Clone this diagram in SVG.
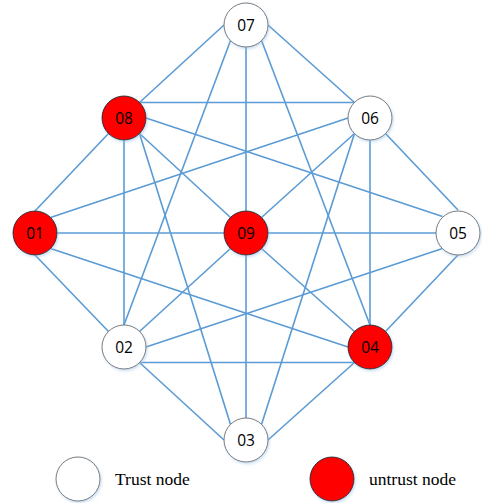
<svg xmlns="http://www.w3.org/2000/svg" width="482" height="503" viewBox="0 0 482 503">
<defs>
<filter id="sh" x="-30%" y="-30%" width="160%" height="160%">
<feDropShadow dx="1" dy="1.5" stdDeviation="1.5" flood-color="#9dc3e6" flood-opacity="0.6"/>
</filter>
</defs>
<style>
.e line{stroke:#5b9bd5;stroke-width:1.6;fill:none}
.t{fill:#ffffff;stroke:#595959;stroke-width:0.8;filter:url(#sh)}
.u{fill:#ff0000;stroke:#1a1a1a;stroke-width:0.9;filter:url(#sh)}
.lb{font-family:"Open Sans","Noto Sans",sans-serif;font-size:15.5px;fill:#000;text-anchor:middle;dominant-baseline:central}
.lg{font-family:"Liberation Serif",serif;font-size:17.5px;fill:#000}
</style>
<rect width="482" height="503" fill="#ffffff"/>
<g id="connectors" class="e">
<line x1="224" y1="25" x2="139.5" y2="102.5"/>
<line x1="268" y1="25" x2="354.5" y2="102.5"/>
<line x1="246" y1="47" x2="246" y2="211"/>
<line x1="230.5" y1="40.5" x2="124" y2="325"/>
<line x1="261.5" y1="40.5" x2="370" y2="325"/>
<line x1="139.5" y1="102.5" x2="354.5" y2="102.5"/>
<line x1="146" y1="118" x2="442.5" y2="216.5"/>
<line x1="139.5" y1="133.5" x2="230.5" y2="217.5"/>
<line x1="139.5" y1="133.5" x2="230.5" y2="424.5"/>
<line x1="124" y1="140" x2="124" y2="325"/>
<line x1="108.5" y1="133.5" x2="35" y2="211"/>
<line x1="348" y1="118" x2="50.5" y2="217.5"/>
<line x1="354.5" y1="133.5" x2="261.5" y2="217.5"/>
<line x1="354.5" y1="133.5" x2="261.5" y2="424.5"/>
<line x1="370" y1="140" x2="370" y2="325"/>
<line x1="385.5" y1="133.5" x2="458" y2="210"/>
<line x1="57" y1="233" x2="224" y2="233"/>
<line x1="268" y1="233" x2="436" y2="233"/>
<line x1="50.5" y1="248.5" x2="348" y2="347"/>
<line x1="35" y1="255" x2="108.5" y2="331.5"/>
<line x1="139.5" y1="331.5" x2="230.5" y2="248.5"/>
<line x1="354.5" y1="331.5" x2="261.5" y2="248.5"/>
<line x1="246" y1="255" x2="246" y2="418"/>
<line x1="146" y1="347" x2="442.5" y2="248.5"/>
<line x1="385.5" y1="331.5" x2="458" y2="255"/>
<line x1="139.5" y1="362.5" x2="354.5" y2="362.5"/>
<line x1="139.5" y1="362.5" x2="224" y2="440"/>
<line x1="354.5" y1="362.5" x2="268" y2="440"/>
</g>
<g id="n07"><circle class="t" cx="246" cy="25" r="22"/><text class="lb" x="246" y="25">07</text></g>
<g id="n08"><circle class="u" cx="124" cy="118" r="22"/><text class="lb" x="124" y="118">08</text></g>
<g id="n06"><circle class="t" cx="370" cy="118" r="22"/><text class="lb" x="370" y="118">06</text></g>
<g id="n01"><circle class="u" cx="35" cy="233" r="22"/><text class="lb" x="35" y="233">01</text></g>
<g id="n09"><circle class="u" cx="246" cy="233" r="22"/><text class="lb" x="246" y="233">09</text></g>
<g id="n05"><circle class="t" cx="458" cy="233" r="22"/><text class="lb" x="458" y="233">05</text></g>
<g id="n02"><circle class="t" cx="124" cy="347" r="22"/><text class="lb" x="124" y="347">02</text></g>
<g id="n04"><circle class="u" cx="370" cy="347" r="22"/><text class="lb" x="370" y="347">04</text></g>
<g id="n03"><circle class="t" cx="246" cy="440" r="22"/><text class="lb" x="246" y="440">03</text></g>
<g id="legend-trust"><circle class="t" cx="78" cy="479" r="22"/><text class="lg" x="115" y="485">Trust node</text></g>
<g id="legend-untrust"><circle class="u" cx="332" cy="479" r="22"/><text class="lg" x="369" y="485">untrust node</text></g>
</svg>
